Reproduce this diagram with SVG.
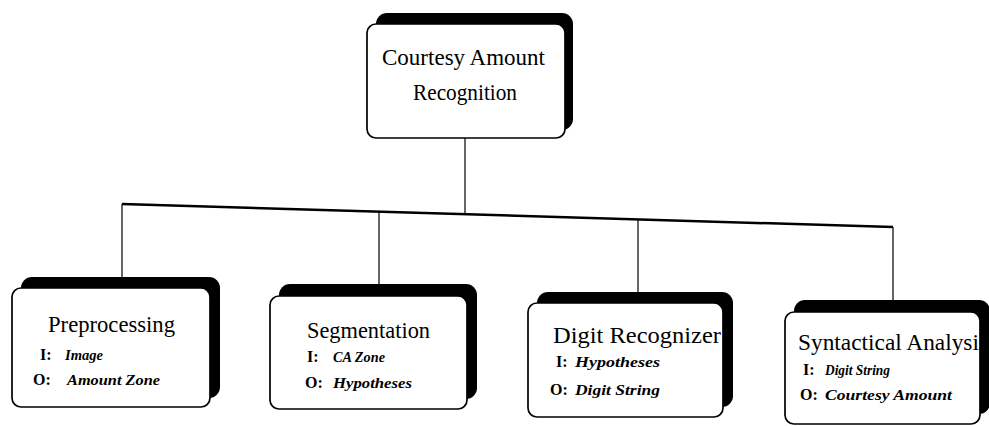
<svg xmlns="http://www.w3.org/2000/svg" width="989" height="426" viewBox="0 0 989 426">
<style>
.shadow{fill:#000}
.box{fill:#fff;stroke:#000;stroke-width:1.7}
.title{font-family:"Liberation Serif",serif;font-size:23px;fill:#000}
.key{font-family:"Liberation Serif",serif;font-size:16px;font-weight:bold;fill:#000}
.val{font-family:"Liberation Serif",serif;font-size:14px;font-style:italic;font-weight:bold;fill:#000}
.thin{stroke:#000;stroke-width:1.2;fill:none}
.bus{stroke:#000;stroke-width:2.5;fill:none}
</style>
<rect width="989" height="426" fill="#fff"/>
<g id="connectors">
<line class="thin" x1="465" y1="138" x2="465" y2="214"/>
<line class="bus" x1="122" y1="204" x2="893" y2="227"/>
<line class="thin" x1="122" y1="204" x2="122" y2="279"/>
<line class="thin" x1="379" y1="212" x2="379" y2="285"/>
<line class="thin" x1="638" y1="219" x2="638" y2="293"/>
<line class="thin" x1="893" y1="227" x2="893" y2="301"/>
</g>
<g id="node-car">
<rect class="shadow" x="376" y="13" width="197" height="117" rx="11"/>
<rect class="box" x="367" y="24" width="198" height="114" rx="9"/>
<text class="title" x="382" y="65" textLength="163" lengthAdjust="spacingAndGlyphs">Courtesy Amount</text>
<text class="title" x="413" y="100" textLength="104" lengthAdjust="spacingAndGlyphs">Recognition</text>
</g>
<g id="node-pre">
<rect class="shadow" x="21" y="277" width="199" height="121" rx="11"/>
<rect class="box" x="12" y="288" width="198" height="119" rx="9"/>
<text class="title" x="48" y="332" textLength="127" lengthAdjust="spacingAndGlyphs">Preprocessing</text>
<text class="key" x="40" y="360">I:</text>
<text class="val" x="65" y="360" textLength="38" lengthAdjust="spacingAndGlyphs">Image</text>
<text class="key" x="33" y="385">O:</text>
<text class="val" x="67" y="385" textLength="93" lengthAdjust="spacingAndGlyphs">Amount Zone</text>
</g>
<g id="node-seg">
<rect class="shadow" x="279" y="284" width="198" height="115" rx="11"/>
<rect class="box" x="270" y="296" width="197" height="113" rx="9"/>
<text class="title" x="307" y="338" textLength="123" lengthAdjust="spacingAndGlyphs">Segmentation</text>
<text class="key" x="307" y="362">I:</text>
<text class="val" x="333" y="362" textLength="52" lengthAdjust="spacingAndGlyphs">CA Zone</text>
<text class="key" x="305" y="388">O:</text>
<text class="val" x="333" y="388" textLength="79" lengthAdjust="spacingAndGlyphs">Hypotheses</text>
</g>
<g id="node-digit">
<rect class="shadow" x="537" y="292" width="196" height="115" rx="11"/>
<rect class="box" x="528" y="303" width="195" height="114" rx="9"/>
<text class="title" x="553" y="343" textLength="168" lengthAdjust="spacingAndGlyphs">Digit Recognizer</text>
<text class="key" x="556" y="367">I:</text>
<text class="val" x="575" y="367" textLength="85" lengthAdjust="spacingAndGlyphs">Hypotheses</text>
<text class="key" x="550" y="395">O:</text>
<text class="val" x="575" y="395" textLength="85" lengthAdjust="spacingAndGlyphs">Digit String</text>
</g>
<g id="node-syn">
<rect class="shadow" x="794" y="300" width="196" height="114" rx="11"/>
<rect class="box" x="785" y="312" width="195" height="112" rx="9"/>
<text class="title" x="798" y="350" textLength="190" lengthAdjust="spacingAndGlyphs">Syntactical Analysis</text>
<text class="key" x="803" y="375">I:</text>
<text class="val" x="825" y="375" textLength="65" lengthAdjust="spacingAndGlyphs">Digit String</text>
<text class="key" x="800" y="400">O:</text>
<text class="val" x="825" y="400" textLength="127" lengthAdjust="spacingAndGlyphs">Courtesy Amount</text>
</g>
</svg>
